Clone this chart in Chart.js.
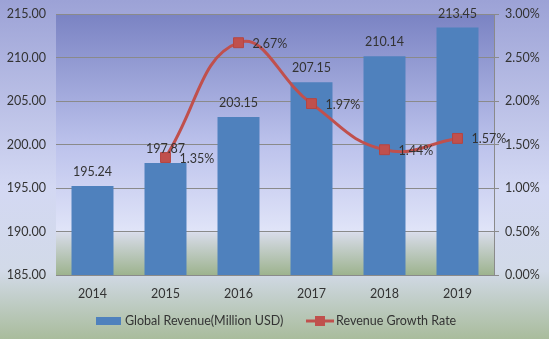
<!DOCTYPE html>
<html>
<head>
<meta charset="utf-8">
<script src="https://cdn.jsdelivr.net/npm/chart.js@4"></script>
<style>
  html, body { margin: 0; padding: 0; }
  #wrap { width: 549px; height: 339px; }
</style>
</head>
<body>
<div id="wrap"><canvas id="revenueChart"></canvas></div>
<script>
// Yearly data
const years = ['2014', '2015', '2016', '2017', '2018', '2019'];
const revenue = [195.24, 197.87, 203.15, 207.15, 210.14, 213.45];
const growthRate = [null, 1.35, 2.67, 1.97, 1.44, 1.57];

const FONT = 'Lato, "Open Sans", sans-serif';
const FONT_SIZE = 12.5;
const TEXT = '#333333';
const BAR_BLUE = '#4f81bd';
const LINE_RED = '#c0504d';

// Backgrounds: whole canvas plus the plot area
const backgroundPlugin = {
    id: 'backgrounds',
    beforeDraw(chart) {
        const { ctx, width, height, chartArea: a } = chart;
        ctx.save();
        let g = ctx.createLinearGradient(0, 0, 0, height);
        g.addColorStop(0, '#9ca2d6');
        g.addColorStop(0.55, '#d3d8f3');
        g.addColorStop(0.8, '#d2dae8');
        g.addColorStop(1, '#a9bc9c');
        ctx.fillStyle = g;
        ctx.fillRect(0, 0, width, height);

        g = ctx.createLinearGradient(0, a.top, 0, a.bottom);
        g.addColorStop(0, '#7a83c3');
        g.addColorStop(0.5, '#bcc2ec');
        g.addColorStop(0.83, '#e0e4f8');
        g.addColorStop(0.84, '#d7dbe8');
        g.addColorStop(1, '#9db38e');
        ctx.fillStyle = g;
        ctx.fillRect(a.left, a.top, a.right - a.left, a.bottom - a.top);
        ctx.restore();
    }
};

// Value labels over the bars and beside the line points, plus the legend
const labelPlugin = {
    id: 'valueLabels',
    afterDatasetsDraw(chart) {
        const { ctx } = chart;
        ctx.save();
        ctx.font = FONT_SIZE + 'px ' + FONT;
        ctx.fillStyle = TEXT;
        ctx.textBaseline = 'middle';

        const bars = chart.getDatasetMeta(0).data;
        ctx.textAlign = 'center';
        bars.forEach((bar, i) => {
            ctx.fillText(revenue[i].toFixed(2), bar.x, bar.y - 14);
        });

        const points = chart.getDatasetMeta(1).data;
        ctx.textAlign = 'left';
        points.forEach((pt, i) => {
            if (growthRate[i] == null) return;
            ctx.fillText(growthRate[i].toFixed(2) + '%', pt.x + 14, pt.y + 1);
        });

        // legend
        const ly = 321;
        ctx.fillStyle = BAR_BLUE;
        ctx.fillRect(96, ly - 4, 25, 8);
        ctx.fillStyle = TEXT;
        ctx.fillText('Global Revenue(Million USD)', 125, ly);

        ctx.strokeStyle = LINE_RED;
        ctx.lineWidth = 3;
        ctx.beginPath();
        ctx.moveTo(306, ly);
        ctx.lineTo(334, ly);
        ctx.stroke();
        ctx.fillStyle = LINE_RED;
        ctx.fillRect(315, ly - 5, 10, 10);
        ctx.fillStyle = TEXT;
        ctx.fillText('Revenue Growth Rate', 336, ly);
        ctx.restore();
    }
};

// fixed axis widths, no extra room for half-height tick labels
function fitWidth(w) {
    return scale => {
        scale.width = w;
        scale.paddingTop = 0;
        scale.paddingBottom = 0;
    };
}

new Chart(document.getElementById('revenueChart'), {
    type: 'bar',
    data: {
        labels: years,
        datasets: [{
            label: 'Global Revenue(Million USD)',
            data: revenue,
            backgroundColor: BAR_BLUE,
            yAxisID: 'y',
            barPercentage: 0.575,
            categoryPercentage: 1.0,
            order: 2
        }, {
            type: 'line',
            label: 'Revenue Growth Rate',
            data: growthRate,
            yAxisID: 'y1',
            borderColor: LINE_RED,
            backgroundColor: LINE_RED,
            borderWidth: 3,
            tension: 0.45,
            pointStyle: 'rect',
            pointRadius: 7,
            pointBorderColor: '#b64541',
            pointBorderWidth: 1,
            order: 1
        }]
    },
    options: {
        responsive: true,
        maintainAspectRatio: false,
        animation: false,
        layout: { padding: { top: 14, left: 0, right: 0, bottom: 0 } },
        plugins: {
            legend: { display: false },
            tooltip: { enabled: false }
        },
        scales: {
            x: {
                grid: { display: false, drawTicks: false },
                border: { display: false },
                ticks: { color: TEXT, font: { family: FONT, size: FONT_SIZE }, padding: 11 },
                afterFit(scale) {
                    scale.height = 64;
                    scale.paddingLeft = 0;
                    scale.paddingRight = 0;
                }
            },
            y: {
                position: 'left',
                min: 185,
                max: 215,
                ticks: {
                    stepSize: 5,
                    color: TEXT,
                    font: { family: FONT, size: FONT_SIZE },
                    padding: 10,
                    callback: v => v.toFixed(2)
                },
                grid: { color: '#8a8a8a', lineWidth: 1, drawTicks: false },
                border: { display: false },
                afterFit: fitWidth(56)
            },
            y1: {
                position: 'right',
                min: 0,
                max: 3,
                ticks: {
                    stepSize: 0.5,
                    color: TEXT,
                    font: { family: FONT, size: FONT_SIZE },
                    padding: 6,
                    callback: v => v.toFixed(2) + '%'
                },
                grid: { drawOnChartArea: false, color: '#8a8a8a', tickLength: 5 },
                border: { color: '#8a8a8a' },
                afterFit: fitWidth(55)
            }
        }
    },
    plugins: [backgroundPlugin, labelPlugin]
});
</script>
</body>
</html>
